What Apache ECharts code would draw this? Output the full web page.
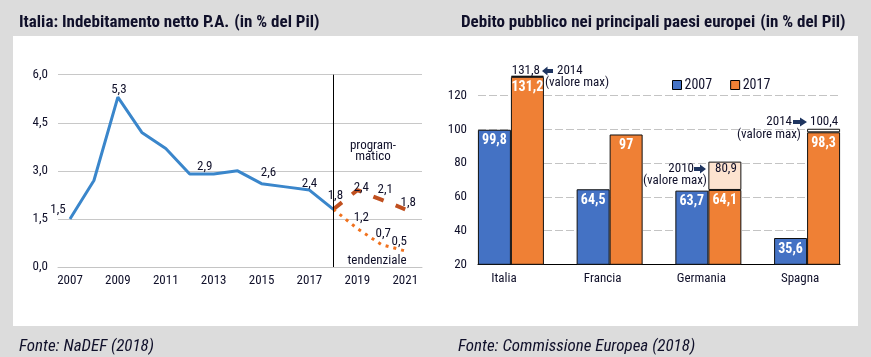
<!DOCTYPE html>
<html><head><meta charset="utf-8">
<script src="https://cdn.jsdelivr.net/npm/echarts@6/dist/echarts.min.js"></script>
<style>
html,body{margin:0;padding:0;background:#dcdcdc;width:871px;height:357px;overflow:hidden}
#panel{position:absolute;left:13px;top:36px;width:845px;height:290px;background:#fff}
#c{position:absolute;left:0;top:0;width:871px;height:357px}
</style>
</head><body><div id="panel"></div><div id="c"></div><script>
// ---------- data: left chart ----------
const years = [2007,2008,2009,2010,2011,2012,2013,2014,2015,2016,2017,2018];
const netBorrowing = [1.5,2.7,5.3,4.2,3.7,2.9,2.9,3.0,2.6,2.5,2.4,1.8];
const forecastYears = [2018,2019,2020,2021];
const programmatico = [1.8,2.4,2.1,1.8];
const tendenziale = [1.8,1.2,0.7,0.5];
const xTickLabels = ['2007','2009','2011','2013','2015','2017','2019','2021'];
const labelledYears = [2007,2009,2013,2015,2017,2018];
const labelledForecast = [2019,2020,2021];
// ---------- data: right chart ----------
const countries = ['Italia','Francia','Germania','Spagna'];
const debt2007 = [99.8,64.5,63.7,35.6];
const debt2017 = [131.2,97,64.1,98.3];
const debtMax = [131.8,null,80.9,100.4];
const debtMaxYear = ['2014',null,'2010','2014'];

// ---------- styles ----------
const FF = '"Roboto Condensed","DejaVu Sans Condensed",sans-serif';
const TXT = '#10102a';
const fmt1 = v => v.toFixed(1).replace('.', ',');
const fmtN = v => String(v).replace('.', ',');
const blueOff = {2007:[-12,2],2009:[1,4],2013:[-9,4],2015:[7,1],2017:[0,5],2018:[2,-2]};
const progOff = {2019:[4,9],2020:[4,2],2021:[3,5]};
const tendOff = {2019:[4,1],2020:[2,1],2021:[-6,2]};
const maxFill = ['#ffffff','#ffffff','#fde3cf','#ffffff'];

function lineData(xs, ys, labelled, off) {
  return xs.map((x, i) => {
    const d = {value: [x, ys[i]]};
    if (labelled.includes(x)) d.label = {show: true, offset: off[x]};
    return d;
  });
}
const lineLabel = {show:false, position:'top', distance:5, color:TXT, fontFamily:FF, fontSize:13,
  formatter: p => fmt1(p.value[1])};

const chart = echarts.init(document.getElementById('c'), null, {renderer:'canvas'});

function txt(x, y, text, opts) {
  return {type:'text', x, y, z:100, silent:true,
    style: Object.assign({text, fill:TXT, font:'13px ' + FF, align:'left', verticalAlign:'middle'}, opts || {})};
}
const arrowCol = '#1f3560';
function arrow(x0, y, len, dir) {
  const s = len * 0.5;
  let pts = [[0,-2],[s,-2],[s,-4.5],[len,0],[s,4.5],[s,2],[0,2]];
  if (dir < 0) pts = pts.map(p => [len - p[0], p[1]]);
  return {type:'polygon', z:100, silent:true, shape:{points: pts.map(p => [x0 + p[0], y + p[1]])},
    style:{fill: arrowCol}};
}
const annFont = '13px ' + FF;
const barLabel = {show:true, position:'insideTop', distance:4, color:'#fff', fontFamily:FF, fontWeight:'bold', fontSize:14};

const option = {
  animation: false,
  backgroundColor: 'transparent',
  title: [
    {left: 14, top: 9, text: '{b|Italia: Indebitamento netto P.A.} {n|(in % del Pil)}',
      textStyle: {rich: {b: {fontFamily:FF, fontWeight:'bold', fontSize:17, color:TXT},
                         n: {fontFamily:FF, fontSize:17, color:TXT}}}},
    {left: 456, top: 9, text: '{b|Debito pubblico nei principali paesi europei} {n|(in % del Pil)}',
      textStyle: {rich: {b: {fontFamily:FF, fontWeight:'bold', fontSize:17, color:TXT},
                         n: {fontFamily:FF, fontSize:17, color:TXT}}}},
    {left: 14, top: 333, text: 'Fonte: NaDEF (2018)',
      textStyle: {fontFamily:FF, fontStyle:'italic', fontWeight:'normal', fontSize:17, color:TXT}},
    {left: 453, top: 333, text: 'Fonte: Commissione Europea (2018)',
      textStyle: {fontFamily:FF, fontStyle:'italic', fontWeight:'normal', fontSize:17, color:TXT}}
  ],
  legend: {
    left: 667, top: 73, itemWidth: 9, itemHeight: 9, itemGap: 18, icon: 'rect',
    data: ['2007','2017'],
    itemStyle: {borderColor:'#000', borderWidth:1},
    textStyle: {fontFamily:FF, fontSize:14, color:TXT, padding:[0,0,0,-2]}
  },
  grid: [
    {left: 58, right: 449, top: 74.7, bottom: 90},
    {left: 478, right: 31, top: 62, bottom: 92.7}
  ],
  xAxis: [
    {gridIndex:0, type:'value', min:2006.5, max:2021.7,
      axisLine:{show:true, lineStyle:{color:'#c4c4c4'}}, axisTick:{show:false}, splitLine:{show:false},
      axisLabel:{customValues: xTickLabels.map(Number), formatter: v => String(v), margin:7,
        color:TXT, fontFamily:FF, fontSize:13}},
    {gridIndex:1, type:'value', min:-1/3, max:10/3,
      axisLine:{show:true, lineStyle:{color:'#000', width:1}}, axisTick:{show:false}, splitLine:{show:false},
      axisLabel:{customValues: countries.map((c,i)=>i), formatter: v => countries[Math.round(v)], margin:8,
        padding:[0,14,0,0], color:TXT, fontFamily:FF, fontSize:13}}
  ],
  yAxis: [
    {gridIndex:0, type:'value', min:0, max:6, interval:1.5,
      axisLine:{show:false}, axisTick:{show:false},
      splitLine:{show:true, lineStyle:{color:'#c8c8c8', width:1}},
      axisLabel:{formatter: fmt1, margin:10, color:TXT, fontFamily:FF, fontSize:13}},
    {gridIndex:1, type:'value', min:20, max:140, interval:20,
      axisLine:{show:false}, axisTick:{show:false},
      splitLine:{show:true, showMaxLine:false, lineStyle:{color:'#c4c4c4', width:1, type:[8,3]}},
      axisLabel:{showMaxLabel:false, margin:11, color:TXT, fontFamily:FF, fontSize:13}}
  ],
  series: [
    {name:'Indebitamento', type:'line', xAxisIndex:0, yAxisIndex:0,
      data: lineData(years, netBorrowing, labelledYears, blueOff),
      symbol:'circle', symbolSize:0.01, showSymbol:true,
      lineStyle:{color:'#3a86cb', width:3}, itemStyle:{color:'#3a86cb'},
      label: lineLabel, z:3,
      markLine:{silent:true, symbol:'none', label:{show:false},
        lineStyle:{color:'#000', width:1, type:'solid'}, data:[{xAxis: forecastYears[0]}]}},
    {name:'programmatico', type:'line', xAxisIndex:0, yAxisIndex:0,
      data: lineData(forecastYears, programmatico, labelledForecast, progOff),
      symbol:'circle', symbolSize:0.01, showSymbol:true,
      lineStyle:{color:'#c0501f', width:4, type:[11,13], cap:'butt'}, itemStyle:{color:'#c0501f'},
      label: lineLabel, z:4},
    {name:'tendenziale', type:'line', xAxisIndex:0, yAxisIndex:0,
      data: lineData(forecastYears, tendenziale, labelledForecast, tendOff),
      symbol:'circle', symbolSize:0.01, showSymbol:true,
      lineStyle:{color:'#f0721f', width:3, type:[3,5], cap:'butt'}, itemStyle:{color:'#f0721f'},
      label: lineLabel, z:4},
    {name:'2007', type:'bar', xAxisIndex:1, yAxisIndex:1, barWidth:33, barGap:'0%',
      data: debt2007.map((v,i)=>[i, v]),
      itemStyle:{color:'#4472c4', borderColor:'#111', borderWidth:1},
      label: Object.assign({formatter: p => fmtN(p.value[1])}, barLabel)},
    // stacked series: dimension 0 = value (stacked), dimension 1 = category position
    {name:'2017', type:'bar', xAxisIndex:1, yAxisIndex:1, barWidth:33, barGap:'0%', stack:'o',
      encode:{x:1, y:0},
      data: debt2017.map((v,i)=>[v, i]),
      itemStyle:{color:'#ef8035', borderColor:'#111', borderWidth:1},
      label: Object.assign({formatter: p => fmtN(p.value[0])}, barLabel)},
    {name:'max', type:'bar', xAxisIndex:1, yAxisIndex:1, barWidth:33, barGap:'0%', stack:'o',
      encode:{x:1, y:0},
      data: debtMax.map((m,i)=>({value:[m == null ? 0 : +(m - debt2017[i]).toFixed(1), i],
        itemStyle:{color:maxFill[i], borderColor:'#111', borderWidth: m == null ? 0 : 1}})),
      label:{show:false}}
  ],
  graphic: [
    txt(373, 146, 'program-', {align:'center', font:'13px ' + FF}),
    txt(373, 157, 'matico', {align:'center', font:'13px ' + FF}),
    txt(377, 261, 'tendenziale', {align:'center', font:'13px ' + FF}),
    // Italia max
    txt(540, 71, fmtN(debtMax[0]), {font:annFont, align:'right'}),
    arrow(542, 71, 11, -1),
    txt(557, 71, debtMaxYear[0], {font:annFont}),
    txt(545, 83, '(valore max)', {font:annFont}),
    // Germania max
    txt(694, 169, debtMaxYear[2], {font:annFont, align:'right'}),
    arrow(694, 169, 12, 1),
    txt(715, 169, fmtN(debtMax[2]), {font:annFont}),
    txt(707, 181, '(valore max)', {font:annFont, align:'right'}),
    // Spagna max
    txt(792, 122, debtMaxYear[3], {font:annFont, align:'right'}),
    arrow(793, 122, 14, 1),
    txt(810, 122, fmtN(debtMax[3]), {font:annFont}),
    txt(801, 135, '(valore max)', {font:annFont, align:'right'})
  ]
};
chart.setOption(option);
</script></body></html>
